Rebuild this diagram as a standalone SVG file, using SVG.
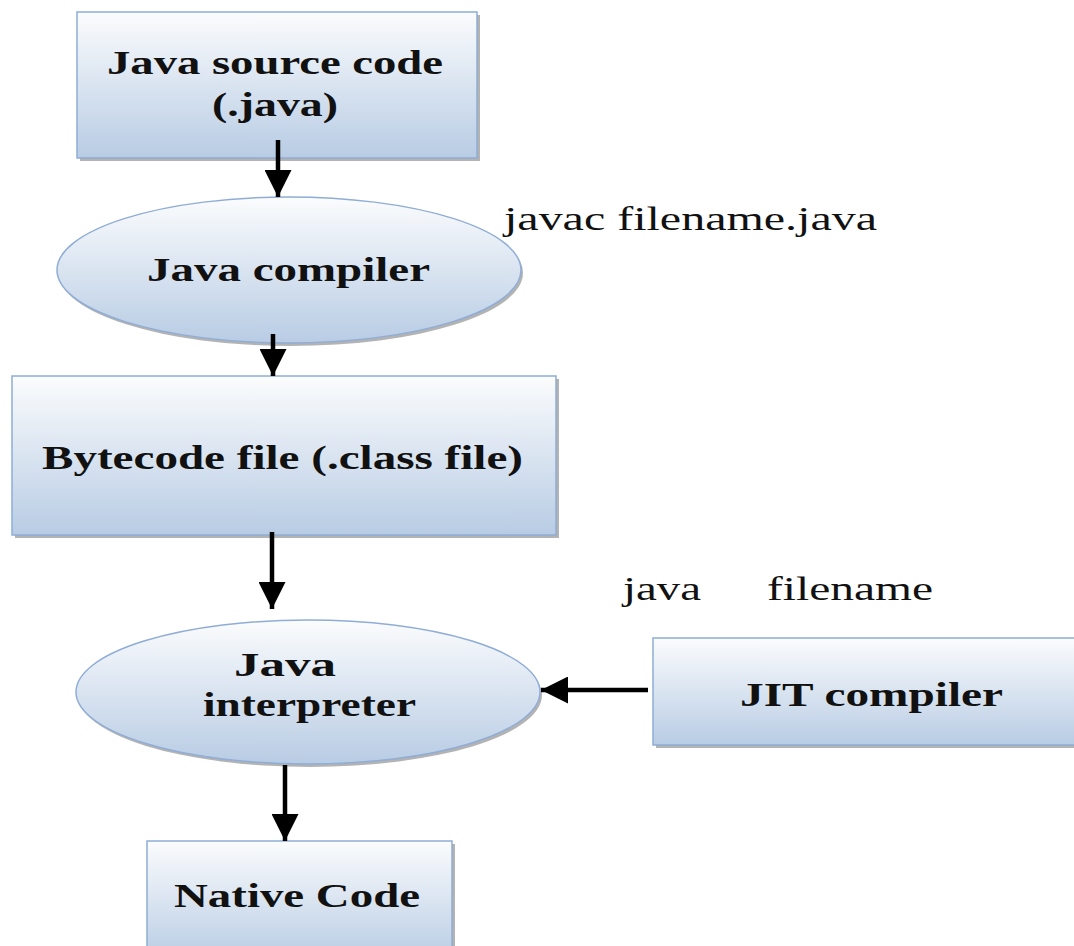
<svg xmlns="http://www.w3.org/2000/svg" width="1074" height="946" viewBox="0 0 1074 946">
  <style>
    .node { stroke: #8fadd6; stroke-width: 1.5; fill: url(#shade); }
    .shadow { fill: #9a9a9a; opacity: 0.75; }
    .label { font-family: "Liberation Serif", "Times New Roman", serif; font-weight: bold; font-size: 33px; fill: #111; text-anchor: start; }
    .note { font-family: "Liberation Serif", "Times New Roman", serif; font-size: 33px; fill: #111; }
    .link { stroke: #000; stroke-width: 4.5; fill: none; }
  </style>
  <defs>
    <linearGradient id="shade" x1="0" y1="0" x2="0" y2="1">
      <stop offset="0" stop-color="#fbfcfd"/>
      <stop offset="1" stop-color="#b8cce4"/>
    </linearGradient>
    <marker id="head" viewBox="0 0 10 10" refX="10" refY="5" markerWidth="6" markerHeight="6" markerUnits="strokeWidth" orient="auto">
      <path d="M0,0 L10,5 L0,10 z" fill="#000"/>
    </marker>
  </defs>

  <rect width="1074" height="946" fill="#fff"/>

  <g id="source">
    <rect class="shadow" x="80" y="15" width="400" height="146"/>
    <rect class="node" x="77" y="12" width="400" height="146"/>
    <text class="label" x="107" y="74" textLength="336" lengthAdjust="spacingAndGlyphs">Java source code</text>
    <text class="label" x="212" y="116" textLength="126" lengthAdjust="spacingAndGlyphs">(.java)</text>
  </g>

  <g id="compiler">
    <ellipse class="shadow" cx="291" cy="273" rx="232" ry="73"/>
    <ellipse class="node" cx="289" cy="270" rx="232" ry="73"/>
    <text class="label" x="147" y="281" textLength="283" lengthAdjust="spacingAndGlyphs">Java compiler</text>
  </g>

  <g id="bytecode">
    <rect class="shadow" x="15" y="379" width="544" height="159"/>
    <rect class="node" x="12" y="376" width="544" height="159"/>
    <text class="label" x="42" y="469" textLength="481" lengthAdjust="spacingAndGlyphs">Bytecode file (.class file)</text>
  </g>

  <g id="interpreter">
    <ellipse class="shadow" cx="310" cy="695" rx="232" ry="72"/>
    <ellipse class="node" cx="308" cy="692" rx="232" ry="72"/>
    <text class="label" x="234" y="676" textLength="102" lengthAdjust="spacingAndGlyphs">Java</text>
    <text class="label" x="203" y="716" textLength="213" lengthAdjust="spacingAndGlyphs">interpreter</text>
  </g>

  <g id="jit">
    <rect class="shadow" x="656" y="641" width="430" height="107"/>
    <rect class="node" x="653" y="638" width="430" height="107"/>
    <text class="label" x="740" y="706" textLength="263" lengthAdjust="spacingAndGlyphs">JIT compiler</text>
  </g>

  <g id="native">
    <rect class="shadow" x="150" y="844" width="305" height="120"/>
    <rect class="node" x="147" y="841" width="305" height="120"/>
    <text class="label" x="174" y="907" textLength="246" lengthAdjust="spacingAndGlyphs">Native Code</text>
  </g>

  <g id="notes">
    <text class="note" x="504" y="230" textLength="373" lengthAdjust="spacingAndGlyphs">javac  filename.java</text>
    <text class="note" x="623" y="600" textLength="78" lengthAdjust="spacingAndGlyphs">java</text>
    <text class="note" x="767" y="600" textLength="166" lengthAdjust="spacingAndGlyphs">filename</text>
  </g>

  <g id="connectors">
    <line class="link" x1="278" y1="140" x2="278" y2="197" marker-end="url(#head)"/>
    <line class="link" x1="273" y1="334" x2="273" y2="376" marker-end="url(#head)"/>
    <line class="link" x1="272" y1="532" x2="272" y2="609" marker-end="url(#head)"/>
    <line class="link" x1="648" y1="690" x2="541" y2="690" marker-end="url(#head)"/>
    <line class="link" x1="285" y1="765" x2="285" y2="841" marker-end="url(#head)"/>
  </g>
</svg>
